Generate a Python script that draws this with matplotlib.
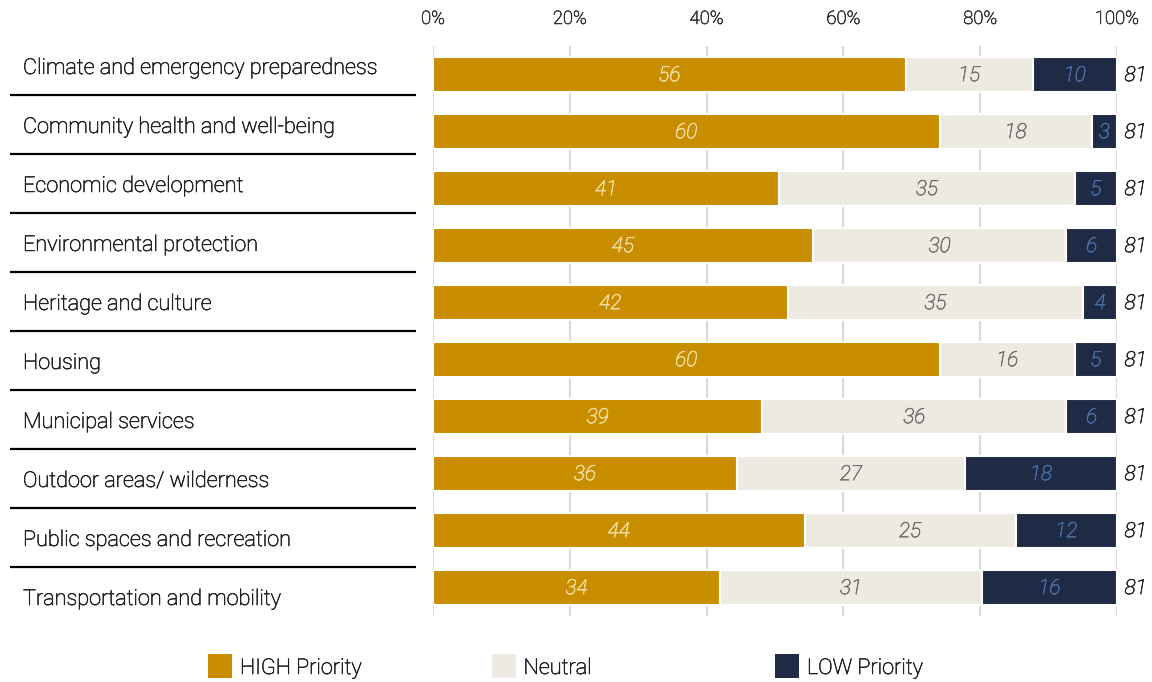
import matplotlib
matplotlib.use("Agg")
import matplotlib.pyplot as plt
import matplotlib.patheffects as pe
from matplotlib.patches import Rectangle
import numpy as np

categories = [
    "Climate and emergency preparedness",
    "Community health and well-being",
    "Economic development",
    "Environmental protection",
    "Heritage and culture",
    "Housing",
    "Municipal services",
    "Outdoor areas/ wilderness",
    "Public spaces and recreation",
    "Transportation and mobility",
]
high = [56, 60, 41, 45, 42, 60, 39, 36, 44, 34]
neutral = [15, 18, 35, 30, 35, 16, 36, 27, 25, 31]
low = [10, 3, 5, 6, 4, 5, 6, 18, 12, 16]
totals = [81, 81, 81, 81, 81, 81, 81, 81, 81, 81]
series_names = ["HIGH Priority", "Neutral", "LOW Priority"]
x_ticks = [0, 20, 40, 60, 80, 100]

colors = ["#C98E00", "#EDEBE1", "#1F2A44"]
text_colors = ["#F3DFA8", "#6E6E6E", "#4A6FA8"]
ink = "#222222"

plt.rcParams["font.family"] = ["Roboto", "DejaVu Sans"]
WEIGHT = "light"


def bolden(color, w=0.45):
    # slightly thicken the light strokes
    return [pe.withStroke(linewidth=w, foreground=color)]


W, H = 1152, 682
fig = plt.figure(figsize=(W / 100, H / 100), dpi=100)


def fig_rect(x0, y0, x1, y1):
    return [x0 / W, 1 - y1 / H, (x1 - x0) / W, (y1 - y0) / H]


# ---- stacked 100% bars ----
ax = fig.add_axes(fig_rect(433, 46, 1117, 616))
n = len(categories)
y = np.arange(n)
tot = np.array(totals, dtype=float)
parts = [np.array(high), np.array(neutral), np.array(low)]
left = np.zeros(n)
for vals, col, tcol in zip(parts, colors, text_colors):
    pct = vals / tot * 100
    ax.barh(y, pct, left=left, height=0.63, color=col, edgecolor="white",
            linewidth=1.5, zorder=2)
    for yi, l, p, v in zip(y, left, pct, vals):
        ax.text(l + p / 2, yi + 0.02, f"{v}", ha="center", va="center", color=tcol,
                fontsize=15, fontstyle="italic", fontweight=WEIGHT, zorder=3,
                path_effects=bolden(tcol))
    left = left + pct

for yi, t in zip(y, totals):
    ax.text(101.1, yi + 0.02, f"{t}", ha="left", va="center", color=ink,
            fontsize=15, fontstyle="italic", fontweight=WEIGHT,
            path_effects=bolden(ink))

ax.set_xlim(0, 100)
ax.set_ylim(n - 0.5, -0.5)
ax.set_xticks(x_ticks)
ax.set_xticklabels([f"{t}%" for t in x_ticks])
ax.xaxis.tick_top()
ax.tick_params(axis="x", length=0, pad=13, labelsize=13.3, labelcolor="#333333")
for lab in ax.get_xticklabels():
    lab.set_fontweight(WEIGHT)
    lab.set_path_effects(bolden("#333333"))
ax.set_yticks([])
for s in ax.spines.values():
    s.set_visible(False)
ax.grid(axis="x", color="#D9D9D9", linewidth=1.5, zorder=0)
ax.set_axisbelow(True)

# ---- category label column with separators ----
lax = fig.add_axes(fig_rect(0, 36, 433, 626))
lax.set_xlim(0, 433)
lax.set_ylim(n, 0)
lax.axis("off")
for i, c in enumerate(categories):
    lax.text(23, i + 0.55, c, ha="left", va="center", fontsize=15.6,
             fontweight=WEIGHT, color=ink, path_effects=bolden(ink))
for i in range(1, n):
    lax.plot([10, 416], [i, i], color="black", linewidth=1.6,
             solid_capstyle="butt")

# ---- legend row ----
gax = fig.add_axes(fig_rect(0, 640, W, 682))
gax.set_xlim(0, W)
gax.set_ylim(682, 640)
gax.axis("off")
for i, (name, col) in enumerate(zip(series_names, colors)):
    x0 = 208 + 283.5 * i
    gax.add_patch(Rectangle((x0, 654), 24, 24, facecolor=col, edgecolor="none"))
    gax.text(x0 + 32, 668.5, name, ha="left", va="center", fontsize=15.6,
             fontweight=WEIGHT, color=ink, path_effects=bolden(ink))

fig.savefig("out.png", dpi=100)
